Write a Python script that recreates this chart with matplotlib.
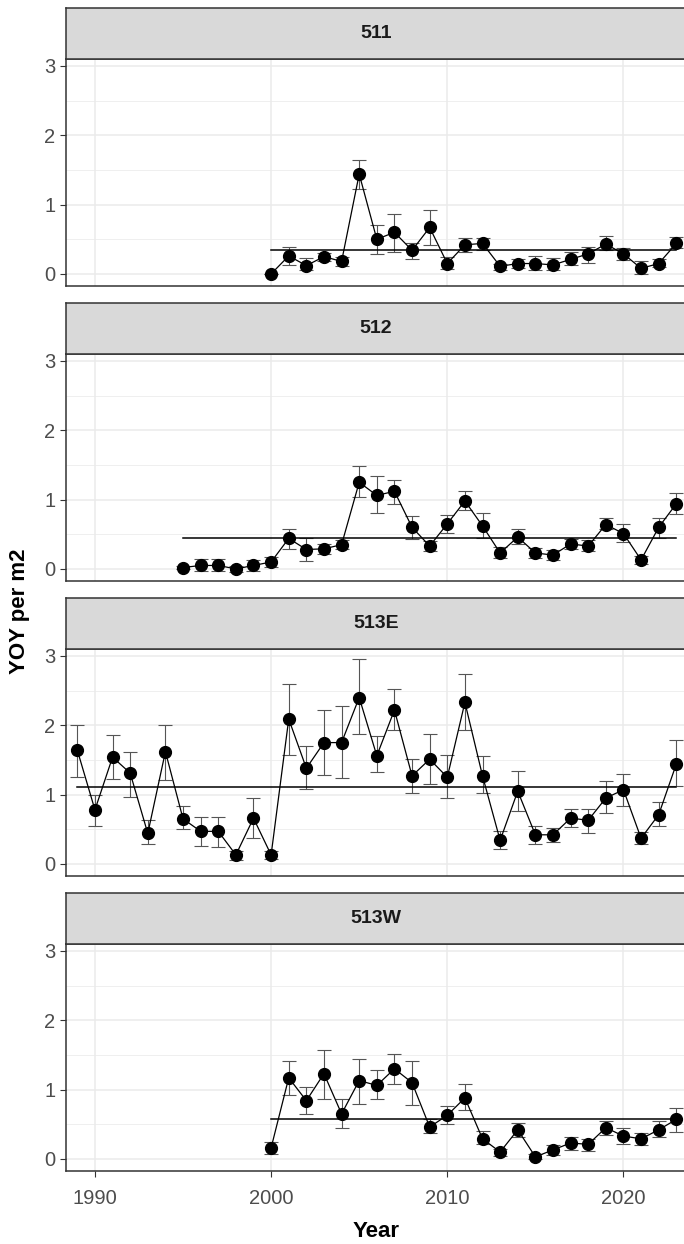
import numpy as np
import matplotlib
matplotlib.use("Agg")
from matplotlib import pyplot as plt
from matplotlib.ticker import MultipleLocator

plt.rcParams['font.family'] = ['Liberation Sans', 'DejaVu Sans']

sites = ["511", "512", "513E", "513W"]

# 511
years_511 = list(range(2000, 2024))
yoy_511 = [0.00, 0.26, 0.12, 0.25, 0.18, 1.44, 0.50, 0.60, 0.34, 0.67, 0.15, 0.42,
           0.44, 0.11, 0.15, 0.15, 0.13, 0.21, 0.29, 0.43, 0.29, 0.08, 0.15, 0.44]
lo_511 = [0.00, 0.13, 0.05, 0.18, 0.11, 1.22, 0.29, 0.32, 0.21, 0.42, 0.07, 0.31,
          0.35, 0.05, 0.09, 0.06, 0.05, 0.13, 0.16, 0.34, 0.20, 0.00, 0.10, 0.37]
hi_511 = [0.00, 0.39, 0.23, 0.30, 0.25, 1.64, 0.71, 0.87, 0.45, 0.92, 0.24, 0.52,
          0.52, 0.15, 0.21, 0.26, 0.23, 0.32, 0.39, 0.55, 0.37, 0.18, 0.21, 0.53]

# 512
years_512 = list(range(1995, 2024))
yoy_512 = [0.02, 0.05, 0.05, 0.00, 0.05, 0.10, 0.44, 0.28, 0.29, 0.35, 1.25, 1.06,
           1.12, 0.60, 0.33, 0.65, 0.98, 0.62, 0.23, 0.46, 0.23, 0.20, 0.36, 0.33,
           0.64, 0.51, 0.13, 0.60, 0.94]
lo_512 = [0.00, -0.03, -0.03, -0.04, -0.03, 0.03, 0.29, 0.12, 0.21, 0.29, 1.04, 0.81,
          0.94, 0.43, 0.26, 0.52, 0.85, 0.45, 0.16, 0.36, 0.16, 0.13, 0.29, 0.26,
          0.57, 0.39, 0.07, 0.45, 0.79]
hi_512 = [0.04, 0.15, 0.15, 0.04, 0.13, 0.17, 0.57, 0.45, 0.36, 0.41, 1.49, 1.34,
          1.28, 0.76, 0.40, 0.78, 1.12, 0.80, 0.32, 0.57, 0.30, 0.27, 0.43, 0.41,
          0.73, 0.65, 0.18, 0.73, 1.10]

# 513E
years_513E = list(range(1989, 2024))
yoy_513E = [1.64, 0.78, 1.54, 1.31, 0.44, 1.62, 0.65, 0.47, 0.47, 0.13, 0.66, 0.13,
            2.09, 1.38, 1.75, 1.75, 2.40, 1.56, 2.22, 1.27, 1.51, 1.25, 2.33, 1.27,
            0.34, 1.05, 0.42, 0.42, 0.66, 0.63, 0.95, 1.07, 0.37, 0.71, 1.44]
lo_513E = [1.26, 0.55, 1.23, 0.97, 0.29, 1.21, 0.50, 0.26, 0.24, 0.06, 0.37, 0.07,
           1.57, 1.08, 1.28, 1.24, 1.88, 1.33, 1.93, 1.02, 1.15, 0.95, 1.93, 1.03,
           0.21, 0.77, 0.29, 0.32, 0.53, 0.45, 0.73, 0.84, 0.29, 0.55, 1.12]
hi_513E = [2.01, 1.00, 1.86, 1.62, 0.63, 2.01, 0.84, 0.68, 0.68, 0.18, 0.95, 0.18,
           2.59, 1.70, 2.22, 2.28, 2.95, 1.84, 2.53, 1.51, 1.88, 1.57, 2.74, 1.55,
           0.47, 1.34, 0.55, 0.52, 0.79, 0.79, 1.19, 1.29, 0.46, 0.90, 1.79]

# 513W
years_513W = list(range(2000, 2024))
yoy_513W = [0.16, 1.17, 0.84, 1.23, 0.65, 1.13, 1.06, 1.30, 1.10, 0.46, 0.63, 0.88,
            0.29, 0.10, 0.42, 0.03, 0.13, 0.23, 0.21, 0.45, 0.33, 0.29, 0.42, 0.57]
lo_513W = [0.07, 0.92, 0.65, 0.86, 0.44, 0.79, 0.86, 1.08, 0.78, 0.37, 0.50, 0.71,
           0.21, 0.04, 0.31, 0.00, 0.06, 0.13, 0.12, 0.34, 0.22, 0.20, 0.32, 0.39]
hi_513W = [0.25, 1.41, 1.04, 1.57, 0.86, 1.44, 1.28, 1.52, 1.41, 0.58, 0.76, 1.08,
           0.40, 0.15, 0.52, 0.07, 0.20, 0.32, 0.29, 0.55, 0.44, 0.38, 0.55, 0.74]

# long-term mean lines
mean_line = [0.35, 0.44, 1.11, 0.57]

data = {
    "511": (years_511, yoy_511, lo_511, hi_511),
    "512": (years_512, yoy_512, lo_512, hi_512),
    "513E": (years_513E, yoy_513E, lo_513E, hi_513E),
    "513W": (years_513W, yoy_513W, lo_513W, hi_513W),
}

W, H = 684, 1244
fig = plt.figure(figsize=(W / 100, H / 100), dpi=100)

left_px, right_px = 65.7, 686.0
strip_h, panel_h, step = 50.5, 227.7, 295.0

for i, site in enumerate(sites):
    yrs, val, lo, hi = data[site]
    yrs = np.array(yrs)
    val = np.array(val)
    lo = np.array(lo)
    hi = np.array(hi)

    top = 8 + step * i
    pb = top + strip_h + panel_h
    ax = fig.add_axes([left_px / W, 1 - pb / H, (right_px - left_px) / W, panel_h / H])
    ax.set_xlim(1988.34, 2023.55)
    ax.set_ylim(-0.177, 3.107)

    ax.yaxis.set_major_locator(MultipleLocator(1))
    ax.yaxis.set_minor_locator(MultipleLocator(0.5))
    ax.xaxis.set_major_locator(MultipleLocator(10))
    ax.grid(True, which='major', color='#EBEBEB', lw=1.1, zorder=0)
    ax.grid(True, which='minor', axis='y', color='#EBEBEB', lw=0.55, zorder=0)
    ax.set_axisbelow(True)

    ax.errorbar(yrs, val, yerr=[val - lo, hi - val], fmt='none', ecolor='#555555',
                elinewidth=0.8, capsize=5, capthick=0.8, zorder=2)
    ax.plot(yrs, val, color='black', lw=0.9, zorder=3)
    ax.plot(yrs, val, 'o', color='black', ms=8.5, zorder=4)
    ax.plot([yrs[0], yrs[-1]], [mean_line[i], mean_line[i]], color='black', lw=1.1, zorder=3)

    for sp in ax.spines.values():
        sp.set_color('#333333')
        sp.set_linewidth(1.1)

    ax.tick_params(axis='both', which='major', color='#333333', width=0.8, length=4.5,
                   labelcolor='#4D4D4D', labelsize=14.5)
    ax.tick_params(axis='y', pad=3)
    ax.tick_params(axis='x', pad=8)
    ax.tick_params(which='minor', length=0)
    if i < 3:
        ax.tick_params(axis='x', length=0, labelbottom=False)

    sax = fig.add_axes([left_px / W, 1 - (top + strip_h) / H, (right_px - left_px) / W, strip_h / H])
    sax.set_facecolor('#D9D9D9')
    sax.set_xticks([])
    sax.set_yticks([])
    for sp in sax.spines.values():
        sp.set_color('#333333')
        sp.set_linewidth(1.1)
    sax.text(0.5, 0.5, site, transform=sax.transAxes, ha='center', va='center',
             fontsize=14, fontweight='bold', color='#1A1A1A')

fig.text(20 / W, 1 - 611.5 / H, "YOY per m2", rotation=90, ha='center', va='center',
         fontsize=16, fontweight='bold', color='black')
fig.text(376 / W, 1 - 1231.5 / H, "Year", ha='center', va='center',
         fontsize=16, fontweight='bold', color='black')

fig.savefig("out.png", dpi=100)
